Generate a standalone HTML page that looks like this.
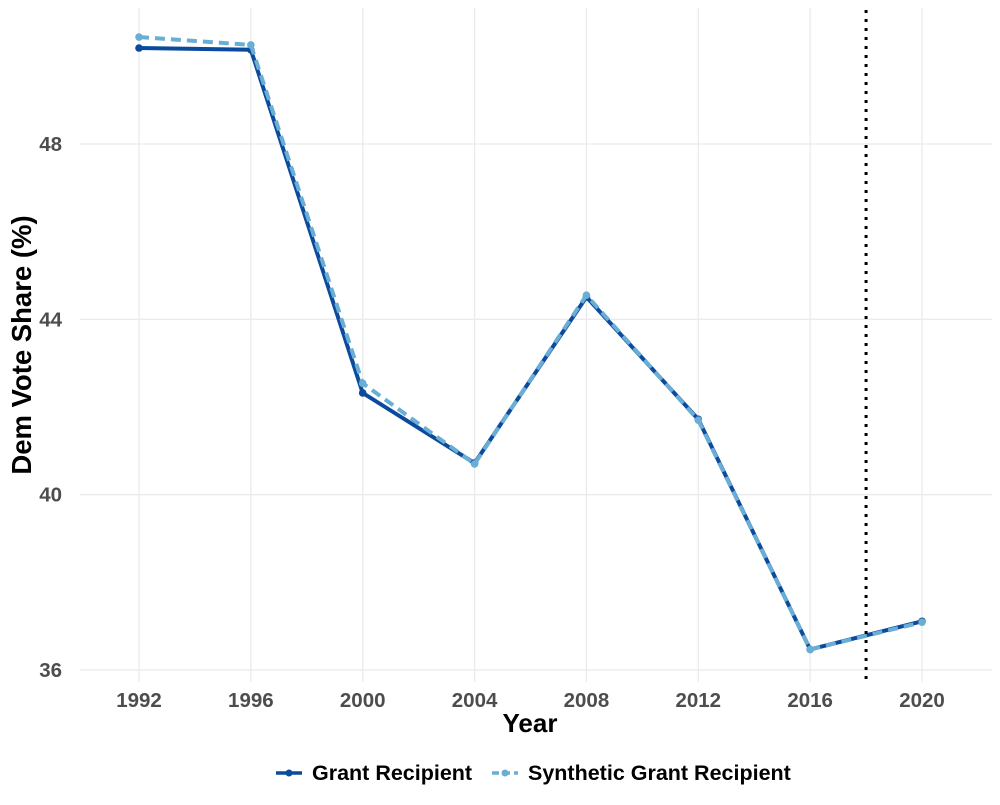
<!DOCTYPE html>
<html><head><meta charset="utf-8"><style>
body{margin:0;background:#fff;font-family:"Liberation Sans",sans-serif}
</style></head><body>
<svg id="chart" width="1000" height="800" xmlns="http://www.w3.org/2000/svg">
<g id="grid"></g>
<g id="axes"></g>
<g id="series"></g>
<text x="530" y="732" text-anchor="middle" font-size="26" font-weight="bold" fill="#000">Year</text>
<text transform="translate(31,345) rotate(-90)" text-anchor="middle" font-size="27.5" font-weight="bold" fill="#000">Dem Vote Share (%)</text>
<g>
<g>
<line x1="276" y1="773" x2="302" y2="773" stroke="#0b4a9c" stroke-width="3.5"/><circle cx="289" cy="773" r="3.5" fill="#0b4a9c"/>
<text x="312" y="780" font-size="21.5" font-weight="bold" fill="#000">Grant Recipient</text></g>
<g>
<line x1="492" y1="773" x2="518" y2="773" stroke="#6aaed6" stroke-width="3.5" stroke-dasharray="7,4"/><circle cx="505" cy="773" r="3.5" fill="#6aaed6"/>
<text x="528" y="780" font-size="21.5" font-weight="bold" fill="#000">Synthetic Grant Recipient</text></g>
</g>
</svg>
<script>
const years=[1992,1996,2000,2004,2008,2012,2016,2020];
const grant=[50.19,50.15,42.32,40.72,44.51,41.72,36.47,37.11];
const synthetic=[50.44,50.26,42.54,40.70,44.55,41.70,36.47,37.09];
const yTicks=[36,40,44,48];
const treatmentYear=2018;
const NS="http://www.w3.org/2000/svg";
const x=v=>139+(v-1992)*(922-139)/28;
const y=v=>144+(48-v)*(670-144)/12;
function mk(tag,attrs,parent){const e=document.createElementNS(NS,tag);for(const k in attrs)e.setAttribute(k,attrs[k]);parent.appendChild(e);return e;}
const grid=document.getElementById('grid'),axes=document.getElementById('axes'),series=document.getElementById('series');
years.forEach(yr=>{
 const l=mk('line',{x1:x(yr),x2:x(yr),y1:8,y2:682,stroke:'#ebebeb','stroke-width':1.3},grid);
 
 
 const t=mk('text',{x:x(yr),y:707,'text-anchor':'middle','font-size':20.5,'font-weight':'bold',fill:'#4d4d4d'},axes);
 t.textContent=yr;
 
 
});
yTicks.forEach(v=>{
 const l=mk('line',{x1:80,x2:992,y1:y(v),y2:y(v),stroke:'#ebebeb','stroke-width':1.3},grid);
 
 
 const t=mk('text',{x:62,y:y(v)+7,'text-anchor':'end','font-size':20.5,'font-weight':'bold',fill:'#4d4d4d'},axes);
 t.textContent=v;
 
 
});
function draw(vals,color,dash,name){
 const p=mk('polyline',{points:years.map((yr,i)=>x(yr)+','+y(vals[i])).join(' '),fill:'none',stroke:color,'stroke-width':4,'stroke-dasharray':dash},series);
 
 
 years.forEach((yr,i)=>{
  const c=mk('circle',{cx:x(yr),cy:y(vals[i]),r:3.8,fill:color},series);
  
  
 });
}
draw(grant,'#0b4a9c','none','grant');
draw(synthetic,'#6aaed6','10,6','synthetic');
const vl=mk('line',{x1:x(treatmentYear),x2:x(treatmentYear),y1:10,y2:682,stroke:'#000','stroke-width':3,'stroke-dasharray':'3,6'},series);


</script>
</body></html>
